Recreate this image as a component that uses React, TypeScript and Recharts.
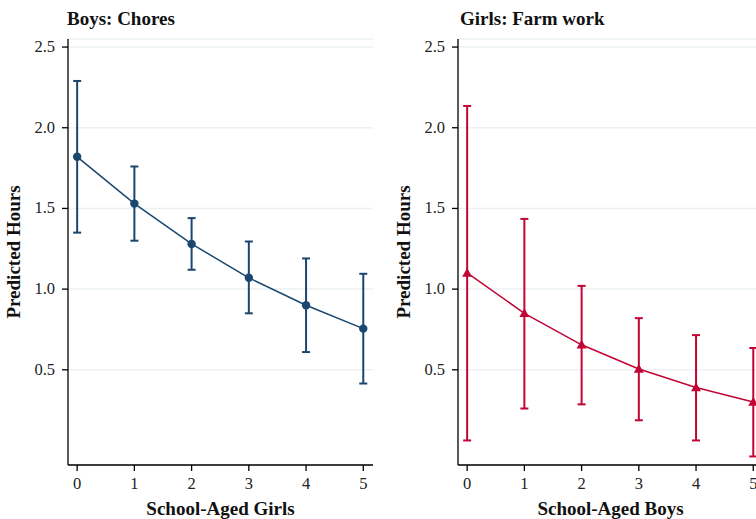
import React from "react"
import { LineChart, Line, XAxis, YAxis, CartesianGrid, ErrorBar } from "recharts"

const counts = [0, 1, 2, 3, 4, 5]
const yTicks = [0.5, 1, 1.5, 2, 2.5]

// Boys: Chores vs school-aged girls
const boysMean = [1.82, 1.53, 1.28, 1.07, 0.9, 0.755]
const boysLow = [1.35, 1.3, 1.12, 0.85, 0.61, 0.415]
const boysHigh = [2.29, 1.76, 1.44, 1.295, 1.19, 1.095]

// Girls: Farm work vs school-aged boys
const girlsMean = [1.1, 0.85, 0.655, 0.505, 0.39, 0.3]
const girlsLow = [0.062, 0.26, 0.286, 0.187, 0.062, -0.037]
const girlsHigh = [2.135, 1.435, 1.02, 0.82, 0.715, 0.635]

const BLUE = "#1a476f"
const RED = "#c10534"
const FONT = "'Liberation Serif', 'DejaVu Serif', serif"

const build = (mean: number[], low: number[], high: number[]) =>
  counts.map((x, i) => ({ x, y: mean[i], err: [mean[i] - low[i], high[i] - mean[i]] }))

const boysData = build(boysMean, boysLow, boysHigh)
const girlsData = build(girlsMean, girlsLow, girlsHigh)

const CircleDot = (props: any) => {
  const { cx, cy } = props
  if (cx == null || cy == null) return null
  return <circle cx={cx} cy={cy} r={4.2} fill={BLUE} stroke="none" />
}

const TriangleDot = (props: any) => {
  const { cx, cy } = props
  if (cx == null || cy == null) return null
  const s = 5
  return (
    <polygon
      points={`${cx},${cy - s} ${cx - s},${cy + s * 0.75} ${cx + s},${cy + s * 0.75}`}
      fill={RED}
      stroke="none"
    />
  )
}

// serif tick labels
const XTick = (props: any) => {
  const { x, y, payload } = props
  return (
    <text x={x} y={y + 16} textAnchor="middle" fill="#222" fontSize={16.5} fontFamily={FONT}>
      {payload.value}
    </text>
  )
}

const YTick = (props: any) => {
  const { x, y, payload } = props
  return (
    <text x={x} y={y + 5} textAnchor="end" fill="#222" fontSize={16.5} fontFamily={FONT}>
      {Number(payload.value).toFixed(1)}
    </text>
  )
}

function Panel({
  data,
  color,
  dot,
  xLabel,
}: {
  data: any[]
  color: string
  dot: any
  xLabel: string
}) {
  return (
    <LineChart
      width={380}
      height={519}
      data={data}
      margin={{ top: 39, right: 7, bottom: 0, left: 0 }}
      style={{ fontFamily: FONT }}
    >
      <CartesianGrid vertical={false} stroke="#eaf2f3" strokeWidth={1.5} />
      <XAxis
        type="number"
        dataKey="x"
        domain={[-0.16, 5.17]}
        ticks={counts}
        allowDataOverflow
        height={54}
        tickSize={6}
        tickMargin={2}
        axisLine={{ stroke: "#000", strokeWidth: 1.3 }}
        tickLine={{ stroke: "#000", strokeWidth: 1.3 }}
        tick={<XTick />}
        label={{
          value: xLabel,
          position: "insideBottom",
          offset: 4,
          fill: "#111",
          fontSize: 19,
          fontWeight: "bold",
          fontFamily: FONT,
        }}
      />
      <YAxis
        type="number"
        domain={[-0.09, 2.55]}
        ticks={yTicks}
        allowDataOverflow
        width={68}
        tickSize={6}
        tickMargin={7}
        axisLine={{ stroke: "#000", strokeWidth: 1.3 }}
        tickLine={{ stroke: "#000", strokeWidth: 1.3 }}
        tick={<YTick />}
        label={{
          value: "Predicted Hours",
          angle: -90,
          position: "insideLeft",
          offset: 13,
          style: { textAnchor: "middle" },
          fill: "#111",
          fontSize: 19,
          fontWeight: "bold",
          fontFamily: FONT,
        }}
      />
      <Line
        type="linear"
        dataKey="y"
        stroke={color}
        strokeWidth={1.5}
        dot={dot}
        activeDot={false}
        isAnimationActive={false}
      >
        <ErrorBar dataKey="err" direction="y" width={4} stroke={color} strokeWidth={2} isAnimationActive={false} />
      </Line>
    </LineChart>
  )
}

const titleStyle: React.CSSProperties = {
  position: "absolute",
  top: 8,
  fontFamily: FONT,
  fontWeight: "bold",
  fontSize: 19,
  color: "#111",
  whiteSpace: "nowrap",
}

export default function App() {
  return (
    <div style={{ position: "fixed", left: 0, top: 0, width: 756, height: 519, overflow: "hidden", background: "#fff" }}>
      <div style={{ position: "absolute", left: 0, top: 0 }}>
        <Panel data={boysData} color={BLUE} dot={<CircleDot />} xLabel="School-Aged Girls" />
      </div>
      <div style={{ position: "absolute", left: 390, top: 0 }}>
        <Panel data={girlsData} color={RED} dot={<TriangleDot />} xLabel="School-Aged Boys" />
      </div>
      <div style={{ ...titleStyle, left: 67 }}>Boys: Chores</div>
      <div style={{ ...titleStyle, left: 460 }}>Girls: Farm work</div>
    </div>
  )
}
